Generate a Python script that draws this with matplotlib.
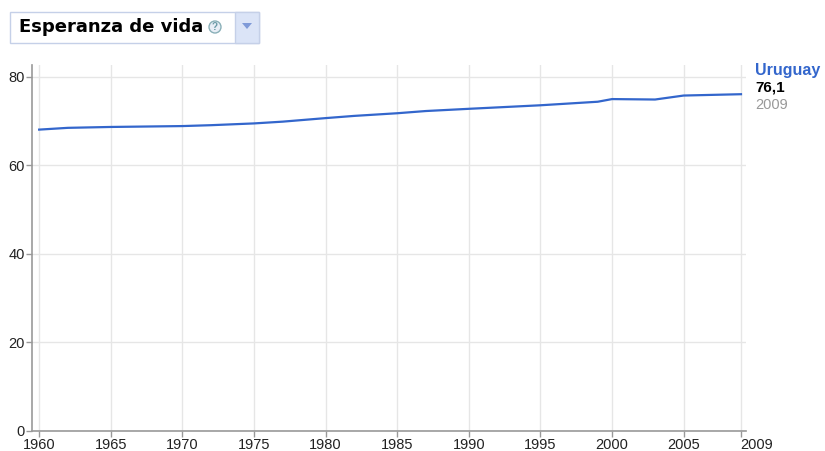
import matplotlib.pyplot as plt
import matplotlib.transforms as mtransforms
from matplotlib.patches import Rectangle, Polygon, Circle

plt.rcParams["font.family"] = ["Liberation Sans", "DejaVu Sans"]

# Uruguay life expectancy
years = [1960, 1962, 1965, 1970, 1972, 1975, 1977, 1980, 1982, 1985, 1987,
         1990, 1995, 1997, 1999, 2000, 2003, 2005, 2009]
life_exp = [68.1, 68.5, 68.7, 68.9, 69.1, 69.5, 69.9, 70.7, 71.2, 71.8, 72.3,
            72.8, 73.6, 74.0, 74.4, 75.0, 74.9, 75.8, 76.1]
xticks = [1960, 1965, 1970, 1975, 1980, 1985, 1990, 1995, 2000, 2005, 2009]
yticks = [0, 20, 40, 60, 80]
series_name = "Uruguay"
last_label = "76,1"
last_year = "2009"
title = "Esperanza de vida"

W, H = 825, 451
fig = plt.figure(figsize=(W / 100, H / 100), dpi=100)
ax = fig.add_axes([32 / W, 1 - 431 / H, (746 - 32) / W, (431 - 65) / H])

ax.plot(years, life_exp, color="#3366cc", lw=1.6, solid_joinstyle="round")
ax.set_xlim(1959.5, 2009.35)
ax.set_ylim(0, 82.7)
ax.set_xticks(xticks)
ax.set_yticks(yticks)
ax.grid(True, color="#e6e6e6", lw=1)
ax.set_axisbelow(True)
for s in ["top", "right"]:
    ax.spines[s].set_visible(False)
for s in ["left", "bottom"]:
    ax.spines[s].set_color("#999999")
    ax.spines[s].set_linewidth(1.2)
ax.tick_params(axis="both", colors="#999999", labelcolor="#222222",
               labelsize=10.5, length=4, width=1)
ax.tick_params(axis="x", pad=1)
ax.tick_params(axis="y", pad=1)

# last year label sits to the right of its tick
lbl = ax.get_xticklabels()[-1]
lbl.set_transform(lbl.get_transform() +
                  mtransforms.ScaledTranslation(16 / 100, 0, fig.dpi_scale_trans))

# legend at right end
fig.text(755 / W, 1 - 71 / H, series_name, color="#3366cc", fontsize=11.5,
         fontweight="bold", va="center", ha="left")
fig.text(755 / W, 1 - 88 / H, last_label, color="#000000", fontsize=11,
         fontweight="bold", va="center", ha="left")
fig.text(755 / W, 1 - 105 / H, last_year, color="#999999", fontsize=10.5,
         va="center", ha="left")

# title box with dropdown
tax = fig.add_axes([0, 0, 1, 1])
tax.set_xlim(0, W)
tax.set_ylim(H, 0)
tax.axis("off")
tax.add_patch(Rectangle((10, 12), 249, 31, facecolor="white",
                        edgecolor="#c5d0e8", lw=1))
tax.add_patch(Rectangle((235, 12), 24, 31, facecolor="#dbe4f7",
                        edgecolor="#c5d0e8", lw=1))
tax.add_patch(Polygon([[242, 23], [252, 23], [247, 29]], closed=True,
                      facecolor="#7f9ad8", edgecolor="none"))
tax.add_patch(Circle((215, 27), 6, facecolor="#e8eef6", edgecolor="#8ab0b8",
                     lw=1))
tax.text(215, 27.5, "?", fontsize=7, color="#6a9aa6", ha="center",
         va="center", fontweight="bold")
tax.text(19, 27.5, title, fontsize=13, fontweight="bold", color="#000000",
         ha="left", va="center", family="DejaVu Sans")

fig.savefig("out.png", dpi=100)
